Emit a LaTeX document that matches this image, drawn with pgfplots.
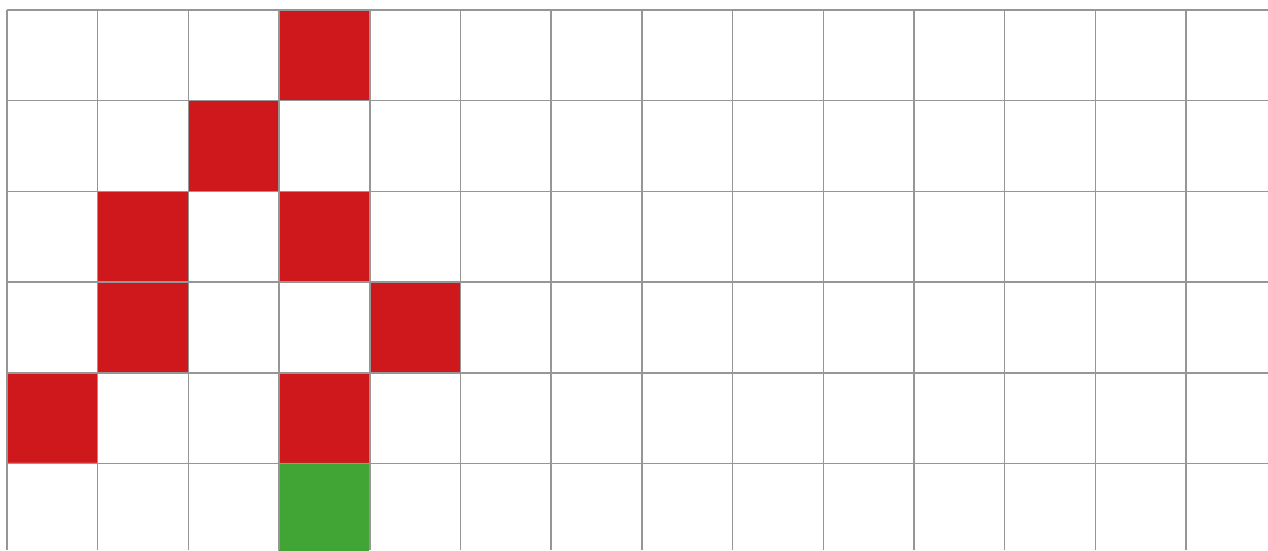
\documentclass[border=0pt]{standalone}
\usepackage{pgfplots}
\pgfplotsset{compat=1.18}
\usepackage{pgfplotstable}
\definecolor{cellred}{RGB}{207,24,27}
\definecolor{cellgreen}{RGB}{64,165,53}
\definecolor{gridgray}{RGB}{150,150,150}
\pgfplotstableread{
x y c
0.5 0.5 0
1.5 0.5 0
2.5 0.5 0
3.5 0.5 1
4.5 0.5 0
5.5 0.5 0
6.5 0.5 0
7.5 0.5 0
8.5 0.5 0
9.5 0.5 0
10.5 0.5 0
11.5 0.5 0
12.5 0.5 0
13.5 0.5 0
14.5 0.5 0
0.5 1.5 0
1.5 1.5 0
2.5 1.5 1
3.5 1.5 0
4.5 1.5 0
5.5 1.5 0
6.5 1.5 0
7.5 1.5 0
8.5 1.5 0
9.5 1.5 0
10.5 1.5 0
11.5 1.5 0
12.5 1.5 0
13.5 1.5 0
14.5 1.5 0
0.5 2.5 0
1.5 2.5 1
2.5 2.5 0
3.5 2.5 1
4.5 2.5 0
5.5 2.5 0
6.5 2.5 0
7.5 2.5 0
8.5 2.5 0
9.5 2.5 0
10.5 2.5 0
11.5 2.5 0
12.5 2.5 0
13.5 2.5 0
14.5 2.5 0
0.5 3.5 0
1.5 3.5 1
2.5 3.5 0
3.5 3.5 0
4.5 3.5 1
5.5 3.5 0
6.5 3.5 0
7.5 3.5 0
8.5 3.5 0
9.5 3.5 0
10.5 3.5 0
11.5 3.5 0
12.5 3.5 0
13.5 3.5 0
14.5 3.5 0
0.5 4.5 1
1.5 4.5 0
2.5 4.5 0
3.5 4.5 1
4.5 4.5 0
5.5 4.5 0
6.5 4.5 0
7.5 4.5 0
8.5 4.5 0
9.5 4.5 0
10.5 4.5 0
11.5 4.5 0
12.5 4.5 0
13.5 4.5 0
14.5 4.5 0
0.5 5.5 0
1.5 5.5 0
2.5 5.5 0
3.5 5.5 2
4.5 5.5 0
5.5 5.5 0
6.5 5.5 0
7.5 5.5 0
8.5 5.5 0
9.5 5.5 0
10.5 5.5 0
11.5 5.5 0
12.5 5.5 0
13.5 5.5 0
14.5 5.5 0
}\cells
\begin{document}
\begin{tikzpicture}
\begin{axis}[
  name=ax,
  width=12.61cm, height=5.40cm, scale only axis,
  xmin=0, xmax=13.903,
  ymin=0, ymax=5.954,
  y dir=reverse,
  axis line style={draw=none},
  xtick={0,...,14}, ytick={0,...,6},
  xticklabels={}, yticklabels={},
  major tick length=0pt,
  grid=major,
  major grid style={draw=gridgray, line width=0.15mm},
  axis on top,
  colormap={cells}{rgb255=(255,255,255) rgb255=(207,24,27) rgb255=(64,165,53)},
  point meta min=0, point meta max=2,
]
\addplot[matrix plot*, mesh/cols=15, mesh/ordering=x varies, point meta=explicit]
  table[x=x, y=y, meta=c] {\cells};
\end{axis}
\pgfresetboundingbox
\path ([xshift=-0.7mm]ax.south west) rectangle ([yshift=1.0mm]ax.north east);
\end{tikzpicture}
\end{document}
